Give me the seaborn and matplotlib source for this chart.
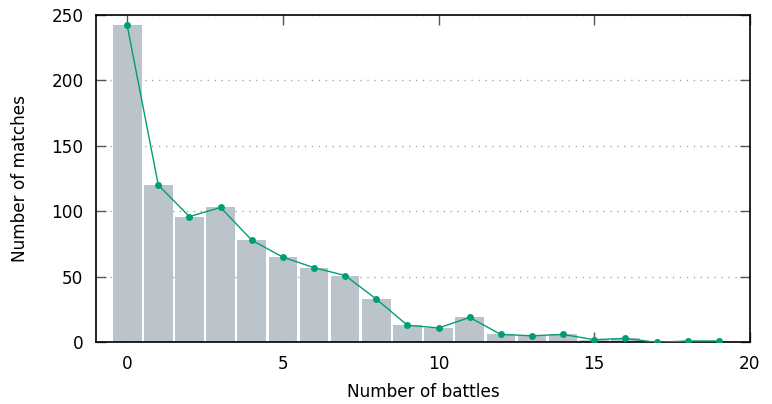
import matplotlib
matplotlib.use("Agg")
import matplotlib.pyplot as plt
import seaborn as sns
import pandas as pd

battles = list(range(20))
matches = [242, 120, 96, 103, 78, 65, 57, 51, 33, 13, 11, 19, 6, 5, 6, 2, 3, 0, 1, 1]

x_ticks = [0, 5, 10, 15, 20]
y_ticks = [0, 50, 100, 150, 200, 250]

sns.set_theme(style="white")
plt.rcParams['font.family'] = ['DejaVu Sans']
plt.rcParams['text.color'] = 'black'
plt.rcParams['axes.labelcolor'] = 'black'
plt.rcParams['xtick.color'] = '#555555'
plt.rcParams['ytick.color'] = '#555555'
plt.rcParams['xtick.labelcolor'] = 'black'
plt.rcParams['ytick.labelcolor'] = 'black'

df = pd.DataFrame({"battles": battles, "matches": matches})

fig = plt.figure(figsize=(7.72, 4.04), dpi=100)
ax = fig.add_axes([0.1244, 0.1527, 0.9715 - 0.1244, 0.963 - 0.1527])

sns.barplot(data=df, x="battles", y="matches", color="#bbc3cb", saturation=1,
            width=0.92, native_scale=True, ax=ax, zorder=2, edgecolor="none")
sns.lineplot(data=df, x="battles", y="matches", color="#009e73", lw=1.0,
             marker="o", markersize=5, markeredgewidth=0, ax=ax, zorder=3)

ax.set_xlim(-1, 20)
ax.set_ylim(0, 250)
ax.set_xticks(x_ticks)
ax.set_yticks(y_ticks)
ax.set_xticklabels([str(v) for v in x_ticks])
ax.set_yticklabels([str(v) for v in y_ticks])

ax.yaxis.grid(True, linestyle=(0, (1, 4)), color="#aaaaaa", lw=1.0, zorder=0)
ax.xaxis.grid(False)
ax.set_axisbelow(True)

ax.tick_params(direction="in", length=7, width=1,
               top=True, right=True, bottom=True, left=True,
               labelsize=12.2, pad=9)
for s in ax.spines.values():
    s.set_color("black")
    s.set_linewidth(1.2)

ax.set_xlabel("Number of battles", fontsize=12.2, labelpad=7)
ax.set_ylabel("Number of matches", fontsize=12.2, labelpad=16)

fig.savefig("out.png", dpi=100)
